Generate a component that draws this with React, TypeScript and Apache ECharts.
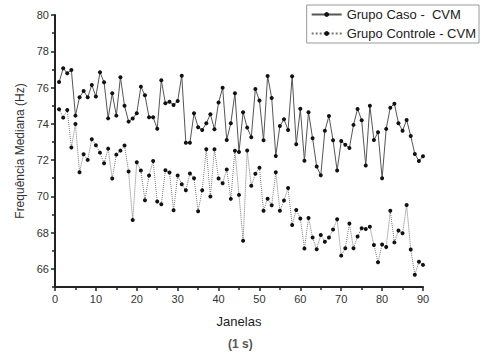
import React, { useEffect, useRef } from "react";
import * as echarts from "echarts";

const janelas: number[] = Array.from({ length: 90 }, (_, i) => i + 1);

const grupoCaso: number[] = [
  76.3, 77.06, 76.79, 76.97, 74.45, 75.46, 75.81, 75.46, 76.14, 75.5,
  76.84, 76.29, 74.3, 75.68, 74.45, 76.57, 75.0, 74.12, 74.29, 74.58,
  76.05, 75.57, 74.36, 74.36, 73.73, 76.4, 75.13, 75.22, 75.04, 75.26,
  76.65, 72.96, 72.96, 74.58, 73.81, 73.66, 74.03, 74.53, 73.7, 75.17,
  75.99, 73.11, 74.03, 75.68, 72.44, 74.64, 73.79, 73.26, 75.92, 75.28,
  73.09, 76.64, 75.42, 72.23, 73.88, 74.25, 73.66, 76.62, 72.87, 74.83,
  71.96, 74.64, 73.2, 71.64, 71.16, 73.62, 74.43, 73.09, 71.42, 73.05,
  72.85, 72.67, 73.94, 74.82, 74.2, 71.7, 75.0, 73.11, 73.53, 71.0,
  73.72, 74.89, 75.11, 74.03, 73.62, 74.21, 73.33, 72.34, 71.95, 72.21,
];

const grupoControle: number[] = [
  74.8, 74.34, 74.76, 72.69, 73.99, 71.33, 72.32, 72.01, 73.15, 72.82,
  72.41, 71.82, 72.63, 70.98, 72.3, 72.52, 72.8, 71.37, 68.7, 71.88,
  71.42, 69.78, 71.15, 71.95, 69.71, 69.56, 71.44, 71.31, 69.23, 71.15,
  70.67, 70.33, 71.26, 71.0, 69.18, 70.34, 72.6, 69.99, 72.6, 70.98,
  70.72, 71.48, 69.86, 72.51, 70.08, 67.55, 72.53, 70.58, 71.24, 71.58,
  69.2, 69.87, 69.51, 71.33, 69.2, 69.77, 70.46, 68.42, 69.25, 68.78,
  67.12, 68.81, 67.73, 67.08, 67.87, 67.5, 67.73, 68.17, 68.74, 66.73,
  67.14, 68.5, 67.14, 67.78, 68.24, 68.2, 68.32, 67.32, 66.37, 67.34,
  67.2, 69.2, 67.46, 68.11, 67.96, 69.52, 67.07, 65.68, 66.39, 66.22,
];

const yMajorTicks: number[] = [66, 68, 70, 72, 74, 76, 78, 80];
const yMinorTicks: number[] = [65, 67, 69, 71, 73, 75, 77, 79];

const FONT = "Liberation Sans, Arial, sans-serif";
const AXIS_COLOR = "#222";

export default function App() {
  const ref = useRef<HTMLDivElement>(null);
  useEffect(() => {
    if (!ref.current) return;
    const chart = echarts.init(ref.current, undefined, { renderer: "svg" });
    const casoData = janelas.map((x, i) => [x, grupoCaso[i]]);
    const controleData = janelas.map((x, i) => [x, grupoControle[i]]);
    chart.setOption({
      animation: false,
      backgroundColor: "#fff",
      textStyle: { fontFamily: FONT },
      grid: { left: 55, right: 58, top: 15, bottom: 65 },
      legend: {
        orient: "vertical",
        right: 2,
        top: 5,
        itemWidth: 30,
        itemHeight: 6,
        itemGap: 6,
        padding: [3, 3, 3, 4],
        borderColor: "#999",
        borderWidth: 1,
        textStyle: { fontSize: 13, color: "#222", fontFamily: FONT },
        data: ["Grupo Caso -  CVM", "Grupo Controle - CVM"],
      },
      xAxis: {
        type: "value",
        min: 0,
        max: 90,
        interval: 10,
        name: "Janelas",
        nameLocation: "middle",
        nameGap: 28,
        nameTextStyle: { fontSize: 13, color: "#222", fontFamily: FONT },
        axisLine: { show: true, onZero: false, lineStyle: { color: AXIS_COLOR, width: 2 } },
        axisTick: { show: true, inside: false, length: 4, lineStyle: { color: AXIS_COLOR, width: 1.5 } },
        minorTick: { show: true, splitNumber: 2, length: 3, lineStyle: { color: AXIS_COLOR, width: 1.5 } },
        axisLabel: { fontSize: 11, color: "#333", margin: 6, fontFamily: FONT },
        splitLine: { show: false },
      },
      yAxis: [
        {
          type: "value",
          min: 65,
          max: 80,
          position: "left",
          name: "Frequência Mediana (Hz)",
          nameLocation: "middle",
          nameGap: 28,
          nameTextStyle: { fontSize: 12, color: "#333", fontFamily: FONT },
          axisLine: { show: true, onZero: false, lineStyle: { color: AXIS_COLOR, width: 2 } },
          axisTick: { show: true, length: 4, customValues: yMajorTicks, lineStyle: { color: AXIS_COLOR, width: 1.5 } },
          axisLabel: { fontSize: 11, color: "#333", margin: 6, customValues: yMajorTicks, fontFamily: FONT },
          splitLine: { show: false },
        },
        {
          type: "value",
          min: 65,
          max: 80,
          position: "left",
          axisLine: { show: false },
          axisTick: { show: true, length: 3, customValues: yMinorTicks, lineStyle: { color: AXIS_COLOR, width: 1.5 } },
          axisLabel: { show: false },
          splitLine: { show: false },
        },
      ],
      graphic: [
        {
          type: "text",
          left: 228,
          top: 338,
          style: { text: "(1 s)", fill: "#555", font: "bold 12px Liberation Sans, Arial, sans-serif" },
        },
      ],
      series: [
        {
          name: "Grupo Caso -  CVM",
          type: "line",
          data: casoData,
          symbol: "circle",
          symbolSize: 4,
          itemStyle: { color: "#111" },
          lineStyle: { color: "#555", width: 1, type: "solid" },
        },
        {
          name: "Grupo Controle - CVM",
          type: "line",
          data: controleData,
          symbol: "circle",
          symbolSize: 4,
          itemStyle: { color: "#111" },
          lineStyle: { color: "#777", width: 1, type: "dotted" },
        },
      ],
    });
    return () => chart.dispose();
  }, []);
  return <div ref={ref} style={{ width: 481, height: 352, position: "absolute", left: 0, top: 0 }} />;
}
